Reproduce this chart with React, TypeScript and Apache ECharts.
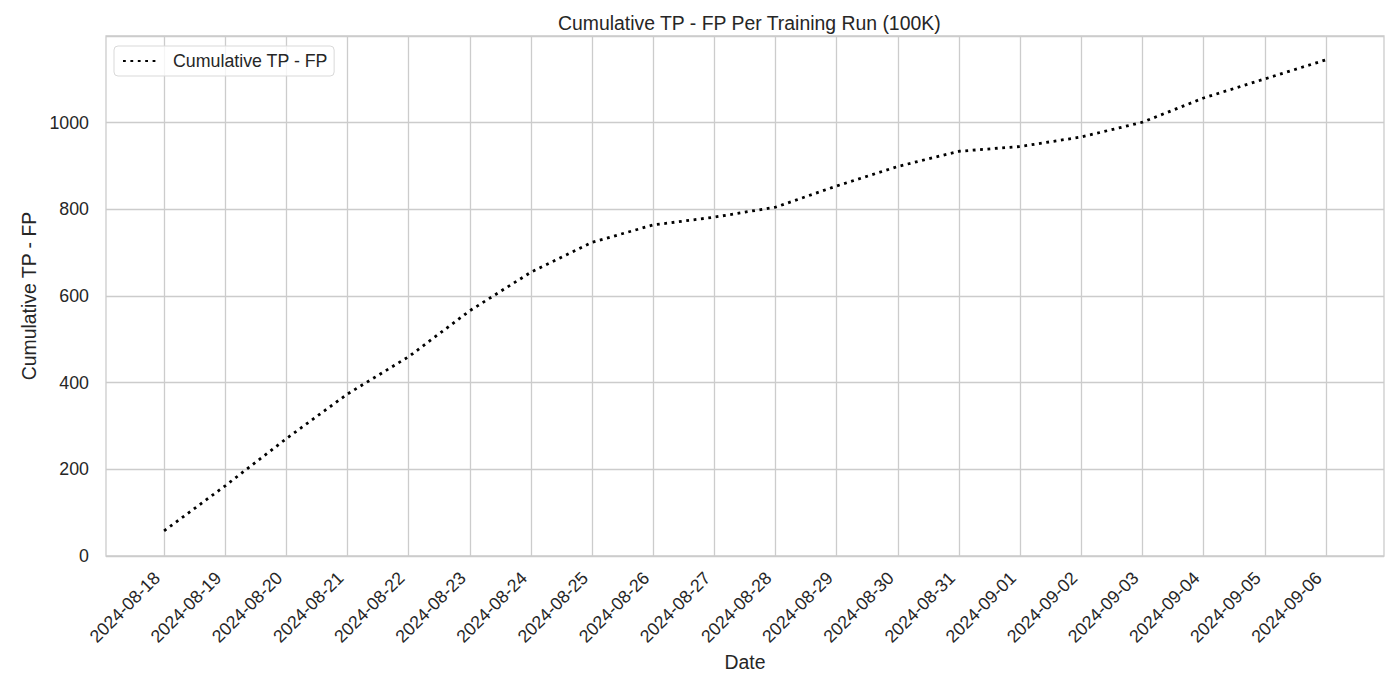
import * as echarts from "echarts"
import { useEffect, useRef } from "react"

// one point per day, 2024-08-18 .. 2024-09-06
const dates = [
  "2024-08-18", "2024-08-19", "2024-08-20", "2024-08-21", "2024-08-22",
  "2024-08-23", "2024-08-24", "2024-08-25", "2024-08-26", "2024-08-27",
  "2024-08-28", "2024-08-29", "2024-08-30", "2024-08-31", "2024-09-01",
  "2024-09-02", "2024-09-03", "2024-09-04", "2024-09-05", "2024-09-06",
]
const cumulative = [
  58, 162, 271, 374, 460, 566, 655, 724, 764, 782,
  805, 854, 899, 934, 945, 967, 1001, 1057, 1101, 1145,
]
const yTicks = [0, 200, 400, 600, 800, 1000]

const FONT = "'Liberation Sans', Arial, sans-serif"
const TEXT = "#262626"
const GRID = "#cccccc"

export default function App(): React.ReactElement {
  const ref = useRef<HTMLDivElement>(null)

  useEffect(() => {
    const node = ref.current
    if (!node) return
    const chart = echarts.init(node, undefined, { renderer: "svg" })

    const dayIdx = dates.map((_, i) => i)

    chart.setOption({
      animation: false,
      backgroundColor: "#ffffff",
      textStyle: { fontFamily: FONT, color: TEXT },
      title: {
        text: "Cumulative TP - FP Per Training Run (100K)",
        left: 553,
        top: 8,
        textStyle: { fontSize: 19.4, fontWeight: "normal", color: TEXT, fontFamily: FONT },
      },
      legend: {
        left: 114,
        top: 46,
        padding: [6, 6, 6, 8],
        borderColor: "#d9d9d9",
        borderWidth: 1,
        borderRadius: 4,
        backgroundColor: "rgba(255,255,255,0.8)",
        itemWidth: 36,
        itemHeight: 14,
        itemStyle: { color: "rgba(0,0,0,0)", borderColor: "rgba(0,0,0,0)", borderWidth: 0 },
        textStyle: { fontSize: 17.8, color: TEXT, fontFamily: FONT, padding: [0, 0, 0, 9] },
        data: ["Cumulative TP - FP"],
      },
      grid: {
        left: 106,
        right: 16,
        top: 36,
        bottom: 129,
        show: true,
        borderColor: GRID,
        borderWidth: 1.3,
        backgroundColor: "transparent",
      },
      xAxis: {
        type: "value",
        min: -0.95,
        max: 19.95,
        name: "Date",
        nameLocation: "middle",
        nameGap: 94,
        nameTextStyle: { fontSize: 19.4, color: TEXT, fontFamily: FONT },
        axisLine: { show: false },
        axisTick: { show: false, customValues: dayIdx },
        axisLabel: {
          customValues: dayIdx,
          rotate: 45,
          margin: 12,
          padding: [0, 10, 0, 0],
          fontSize: 17.8,
          color: TEXT,
          fontFamily: FONT,
          formatter: (v: number) => dates[Math.round(v)] ?? "",
        },
        splitLine: { show: true, lineStyle: { color: GRID, width: 1.3 } },
      },
      yAxis: {
        type: "value",
        min: 0,
        max: 1200,
        interval: 200,
        name: "Cumulative TP - FP",
        nameLocation: "middle",
        nameGap: 60,
        nameTextStyle: { fontSize: 19.4, color: TEXT, fontFamily: FONT },
        axisLine: { show: false },
        axisTick: { show: false },
        axisLabel: {
          margin: 17,
          fontSize: 17.8,
          color: TEXT,
          fontFamily: FONT,
          showMaxLabel: false,
          formatter: (v: number) => (yTicks.includes(v) ? String(v) : ""),
        },
        splitLine: { show: true, lineStyle: { color: GRID, width: 1.3 } },
      },
      series: [
        {
          name: "Cumulative TP - FP",
          type: "line",
          data: cumulative.map((v, i) => [i, v]),
          symbol: "none",
          lineStyle: { color: "#000000", width: 2.8, type: [2.8, 4.6], cap: "butt" },
          itemStyle: { color: "#000000" },
        },
      ],
    })

    return () => chart.dispose()
  }, [])

  return (
    <div
      ref={ref}
      style={{ position: "fixed", left: 0, top: 0, width: 1400, height: 685, background: "#fff" }}
    />
  )
}
